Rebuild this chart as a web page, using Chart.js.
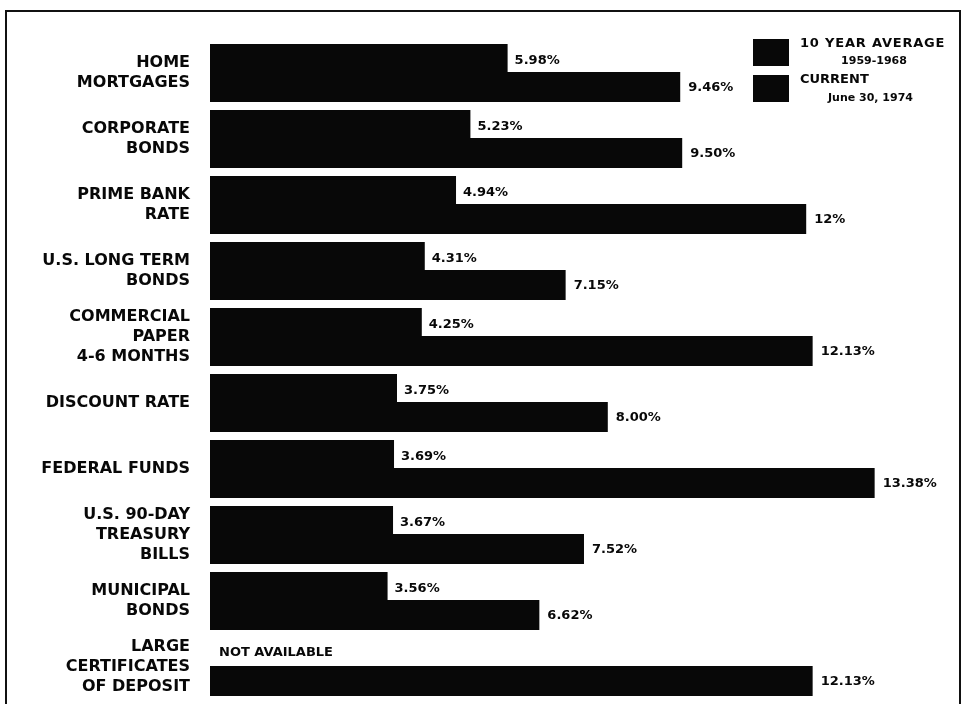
<!DOCTYPE html>
<html>
<head>
<meta charset="utf-8">
<script src="https://cdn.jsdelivr.net/npm/chart.js@4.4.1/dist/chart.umd.min.js"></script>
<style>
    html, body { margin: 0; padding: 0; background: #fff; overflow: hidden; }
    #wrap { position: relative; width: 966px; height: 704px; }
    #frame {
        position: absolute; left: 5px; top: 10px; width: 956px; height: 760px;
        border: 2px solid #111; box-sizing: border-box;
    }
    canvas { position: absolute; left: 0; top: 0; }
</style>
</head>
<body>
<div id="wrap">
    <div id="frame"></div>
    <canvas id="rateChart" width="966" height="704"></canvas>
</div>
<script>
// Categories (multi-line labels)
const categories = [
    ['HOME', 'MORTGAGES'],
    ['CORPORATE', 'BONDS'],
    ['PRIME BANK', 'RATE'],
    ['U.S. LONG TERM', 'BONDS'],
    ['COMMERCIAL', 'PAPER', '4-6 MONTHS'],
    ['DISCOUNT RATE'],
    ['FEDERAL FUNDS'],
    ['U.S. 90-DAY', 'TREASURY', 'BILLS'],
    ['MUNICIPAL', 'BONDS'],
    ['LARGE', 'CERTIFICATES', 'OF DEPOSIT']
];

// 10 year average 1959-1968 (null = not available)
const averageRates = [5.98, 5.23, 4.94, 4.31, 4.25, 3.75, 3.69, 3.67, 3.56, null];
const averageLabels = ['5.98%', '5.23%', '4.94%', '4.31%', '4.25%', '3.75%', '3.69%', '3.67%', '3.56%', 'NOT AVAILABLE'];

// Current, June 30, 1974
const currentRates = [9.46, 9.50, 12, 7.15, 12.13, 8.00, 13.38, 7.52, 6.62, 12.13];
const currentLabels = ['9.46%', '9.50%', '12%', '7.15%', '12.13%', '8.00%', '13.38%', '7.52%', '6.62%', '12.13%'];

// Legend texts
const legendTitles = ['10 YEAR AVERAGE', 'CURRENT'];
const legendSubs = ['1959-1968', 'June 30, 1974'];

const FONT = '"DejaVu Sans", "Liberation Sans", sans-serif';
const INK = '#080808';

// Value labels next to the bar ends
const valueLabels = {
    id: 'valueLabels',
    afterDatasetsDraw(chart) {
        const ctx = chart.ctx;
        const area = chart.chartArea;
        const avgMeta = chart.getDatasetMeta(0);
        const curMeta = chart.getDatasetMeta(1);
        ctx.save();
        ctx.fillStyle = INK;
        ctx.textBaseline = 'middle';
        ctx.textAlign = 'left';
        ctx.font = 'bold 13px ' + FONT;
        curMeta.data.forEach((bar, i) => {
            ctx.fillText(currentLabels[i], bar.x + 9, bar.y + 1);
            const avgBar = avgMeta.data[i];
            if (averageRates[i] === null) {
                ctx.fillText(averageLabels[i], area.left + 9, bar.y - bar.height);
            } else {
                ctx.fillText(averageLabels[i], avgBar.x + 8, avgBar.y + 2);
            }
        });
        ctx.restore();
    }
};

// Legend in the top right corner
const boxLegend = {
    id: 'boxLegend',
    afterDraw(chart) {
        const ctx = chart.ctx;
        ctx.save();
        ctx.fillStyle = INK;
        const boxX = 753, boxW = 36, boxH = 27;
        const tops = [39, 75];
        tops.forEach((top, i) => {
            ctx.fillRect(boxX, top, boxW, boxH);
            ctx.textBaseline = 'middle';
            ctx.font = 'bold 13px ' + FONT;
            ctx.textAlign = 'left';
            ctx.letterSpacing = i === 0 ? '0.8px' : '0px';
            ctx.fillText(legendTitles[i], 800, top + 5);
            ctx.letterSpacing = '0px';
            ctx.font = 'bold 11px ' + FONT;
            if (i === 0) {
                ctx.textAlign = 'center';
                ctx.fillText(legendSubs[i], 874, top + 22);
            } else {
                ctx.fillText(legendSubs[i], 828, top + 23);
            }
        });
        ctx.restore();
    }
};

new Chart(document.getElementById('rateChart'), {
    type: 'bar',
    data: {
        labels: categories,
        datasets: [
            {
                label: legendTitles[0],
                data: averageRates,
                backgroundColor: INK,
                borderWidth: 0,
                inflateAmount: 1
            },
            {
                label: legendTitles[1],
                data: currentRates,
                backgroundColor: INK,
                borderWidth: 0,
                inflateAmount: 1
            }
        ]
    },
    options: {
        indexAxis: 'y',
        responsive: false,
        devicePixelRatio: 1,
        animation: false,
        barPercentage: 1,
        categoryPercentage: 56 / 66,
        layout: {
            padding: { top: 40, bottom: 4, left: 0, right: 12 }
        },
        plugins: {
            legend: { display: false },
            tooltip: { enabled: false }
        },
        scales: {
            x: {
                display: false,
                min: 0,
                max: 15
            },
            y: {
                grid: { display: false, drawTicks: false },
                border: { display: false },
                afterFit: (axis) => {
                    axis.width = 210;
                    axis.paddingTop = 0;
                    axis.paddingBottom = 0;
                },
                ticks: {
                    color: INK,
                    padding: 20,
                    font: { family: FONT, size: 16, weight: 'bold', lineHeight: '20px' }
                }
            }
        }
    },
    plugins: [valueLabels, boxLegend]
});
</script>
</body>
</html>
